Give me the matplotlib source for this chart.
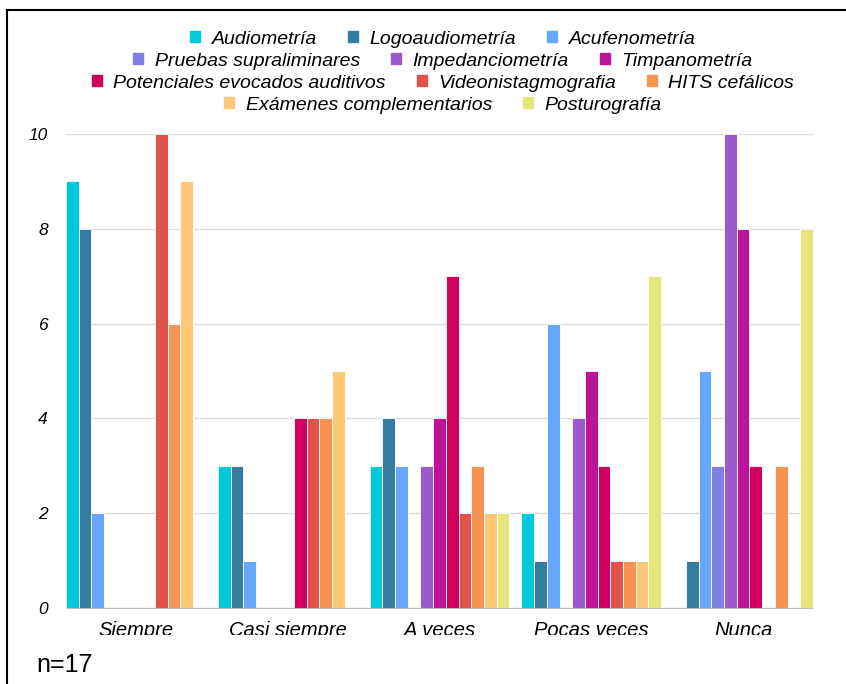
import matplotlib.pyplot as plt
import numpy as np
from matplotlib.patches import Patch, Rectangle
from matplotlib.lines import Line2D

# Frequency categories and test series
categories = ['Siempre', 'Casi siempre', 'A veces', 'Pocas veces', 'Nunca']
tests = ['Audiometría', 'Logoaudiometría', 'Acufenometría',
         'Pruebas supraliminares', 'Impedanciometría', 'Timpanometría',
         'Potenciales evocados auditivos', 'Videonistagmografia', 'HITS cefálicos',
         'Exámenes complementarios', 'Posturografía']

audiometria = [9, 3, 3, 2, 0]
logoaudiometria = [8, 3, 4, 1, 1]
acufenometria = [2, 1, 3, 6, 5]
supraliminares = [0, 0, 0, 0, 3]
impedanciometria = [0, 0, 3, 4, 10]
timpanometria = [0, 0, 4, 5, 8]
potenciales = [0, 4, 7, 3, 3]
videonistagmografia = [10, 4, 2, 1, 0]
hits = [6, 4, 3, 1, 3]
complementarios = [9, 5, 2, 1, 0]
posturografia = [0, 0, 2, 7, 8]

series = [audiometria, logoaudiometria, acufenometria, supraliminares,
          impedanciometria, timpanometria, potenciales, videonistagmografia,
          hits, complementarios, posturografia]

colors = ['#00c9db', '#347da0', '#66a7fb', '#7f7fe4', '#9b59cb', '#bd1399',
          '#d0005c', '#e0524a', '#f59352', '#ffc878', '#e5e67a']

plt.rcParams['font.family'] = ['Liberation Sans', 'DejaVu Sans']

W, H = 846, 684
fig = plt.figure(figsize=(W / 100, H / 100), dpi=100)
ax = fig.add_axes([66 / W, 1 - 608 / H, (813 - 66) / W, (608 - 134) / H])

group_w = 0.921
bar_w = group_w / len(series)
x = np.arange(len(categories))
for i, (vals, col) in enumerate(zip(series, colors)):
    offs = -group_w / 2 + bar_w * (i + 0.5)
    ax.bar(x + offs, vals, width=bar_w, color=col, edgecolor='white',
           linewidth=0.6, zorder=3)

ax.set_xlim(-group_w / 2, len(categories) - 1 + group_w / 2)
ax.set_ylim(0, 10)
ax.set_yticks([0, 2, 4, 6, 8, 10])
ax.set_xticks(x)
ax.set_xticklabels(categories, fontsize=14.5, style='italic')
ax.tick_params(axis='x', length=0, pad=9)
ax.tick_params(axis='y', length=0, pad=13, labelsize=12.5)
for lbl in ax.get_yticklabels():
    lbl.set_style('italic')
ax.grid(axis='y', color='#dcdcdc', linewidth=1, zorder=0)
for side in ['top', 'right', 'left']:
    ax.spines[side].set_visible(False)
ax.spines['bottom'].set_color('#c0c0c0')
ax.spines['bottom'].set_zorder(4)

# Legend split into centred rows
rows = [[0, 1, 2], [3, 4, 5], [6, 7, 8], [9, 10]]
row_y = [39, 61, 83, 105]
for idx, yy in zip(rows, row_y):
    handles = [Patch(color=colors[k]) for k in idx]
    labels = [tests[k] for k in idx]
    fig.legend(handles, labels, loc='center', ncol=len(idx),
               bbox_to_anchor=(443 / W, 1 - yy / H), frameon=False,
               handlelength=0.5, handleheight=0.5, handletextpad=0.6,
               columnspacing=1.6, borderpad=0,
               prop={'size': 14, 'style': 'italic'})

# Bottom band of the category labels is cut off
fig.add_artist(Rectangle((10 / W, 1 - 650 / H), 1, 15 / H, transform=fig.transFigure,
                         facecolor='white', edgecolor='none', zorder=10))

fig.text(36 / W, 1 - 665 / H, 'n=17', fontsize=18, va='center', ha='left')

# Outer frame (top and left edges)
fig.add_artist(Line2D([7 / W, 1], [1 - 10 / H, 1 - 10 / H], color='black',
                      linewidth=1.5, transform=fig.transFigure, zorder=11))
fig.add_artist(Line2D([7 / W, 7 / W], [0, 1 - 10 / H], color='black',
                      linewidth=1.5, transform=fig.transFigure, zorder=11))

fig.savefig('out.png', dpi=100, facecolor='white')
